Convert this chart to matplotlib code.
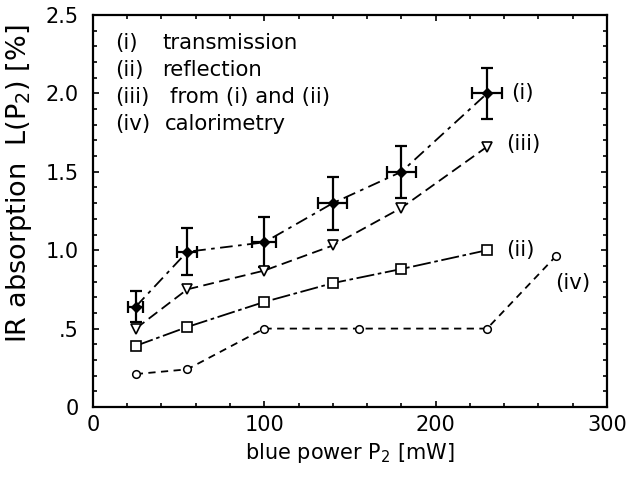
import matplotlib
matplotlib.use("Agg")
import matplotlib.pyplot as plt
from matplotlib.ticker import MultipleLocator, FixedLocator

plt.rcParams['font.family'] = ['DejaVu Sans']

# (i) transmission
x_i = [25, 55, 100, 140, 180, 230]
y_i = [0.64, 0.99, 1.05, 1.30, 1.50, 2.00]
xerr_i = [4.5, 6, 7, 8.5, 8.5, 9]
yerr_i = [0.10, 0.15, 0.16, 0.17, 0.165, 0.165]
# (iii) from (i) and (ii)
x_iii = [25, 55, 100, 140, 180, 230]
y_iii = [0.50, 0.75, 0.87, 1.03, 1.27, 1.66]
# (ii) reflection
x_ii = [25, 55, 100, 140, 180, 230]
y_ii = [0.39, 0.51, 0.67, 0.79, 0.88, 1.00]
# (iv) calorimetry
x_iv = [25, 55, 100, 155, 230, 270]
y_iv = [0.21, 0.24, 0.50, 0.50, 0.50, 0.96]

legend_lines = ["(i)", "(ii)", "(iii)", "(iv)"]
legend_texts = ["transmission", "reflection", "from (i) and (ii)", "calorimetry"]

xticks = [0, 100, 200, 300]
xticklabels = ["0", "100", "200", "300"]
yticks = [0, 0.5, 1.0, 1.5, 2.0, 2.5]
yticklabels = ["0", ".5", "1.0", "1.5", "2.0", "2.5"]

fig = plt.figure(figsize=(6.28, 4.86), dpi=100)
ax = fig.add_axes([0.148, 0.1626, 0.8186, 0.8065])

lw = 1.3
ax.errorbar(x_i, y_i, xerr=xerr_i, yerr=yerr_i, color='black', lw=lw,
            linestyle=(0, (7, 3, 2, 3)), marker='D', markersize=5,
            markerfacecolor='black', ecolor='black', elinewidth=1.6,
            capsize=4, capthick=1.6)
ax.plot(x_iii, y_iii, color='black', lw=lw, linestyle=(0, (6, 3)),
        marker='v', markersize=7, markerfacecolor='white', markeredgewidth=1.2)
ax.plot(x_ii, y_ii, color='black', lw=lw, linestyle=(0, (10, 2, 2, 2)),
        marker='s', markersize=6.5, markerfacecolor='white', markeredgewidth=1.2)
ax.plot(x_iv, y_iv, color='black', lw=lw, linestyle=(0, (4, 3)),
        marker='o', markersize=5.5, markerfacecolor='white', markeredgewidth=1.1)

fs = 15.3
ax.text(x_i[-1] + 14, y_i[-1], "(i)", fontsize=fs, va='center', ha='left')
ax.text(x_iii[-1] + 11, y_iii[-1] + 0.02, "(iii)", fontsize=fs, va='center', ha='left')
ax.text(x_ii[-1] + 11, y_ii[-1], "(ii)", fontsize=fs, va='center', ha='left')
ax.text(x_iv[-1], 0.79, "(iv)", fontsize=fs, va='center', ha='left')

trans = ax.transAxes
ys = [0.929, 0.860, 0.791, 0.722]
xoff = [0.135, 0.135, 0.15, 0.14]
for yy, a, b, xo in zip(ys, legend_lines, legend_texts, xoff):
    ax.text(0.043, yy, a, fontsize=fs, transform=trans, va='center', ha='left')
    ax.text(xo, yy, b, fontsize=fs, transform=trans, va='center', ha='left')

ax.set_xlim(0, 300)
ax.set_ylim(0, 2.5)
ax.xaxis.set_major_locator(FixedLocator(xticks))
ax.set_xticklabels(xticklabels)
ax.yaxis.set_major_locator(FixedLocator(yticks))
ax.set_yticklabels(yticklabels)
ax.xaxis.set_minor_locator(MultipleLocator(20))
ax.yaxis.set_minor_locator(MultipleLocator(0.1))
ax.tick_params(which='both', direction='in', top=True, right=True,
               labelsize=15, width=1.2)
ax.tick_params(which='major', length=4)
ax.tick_params(axis='x', which='major', pad=6)
ax.tick_params(axis='y', which='major', pad=10)
ax.tick_params(which='minor', length=3)
for s in ax.spines.values():
    s.set_linewidth(1.6)

ax.set_xlabel("blue power P$_2$ [mW]", fontsize=15, labelpad=4)
ax.set_ylabel("IR absorption  L(P$_2$) [%]", fontsize=19.5)
ax.yaxis.set_label_coords(-0.115, 0.57)

fig.savefig("out.png", dpi=100)
